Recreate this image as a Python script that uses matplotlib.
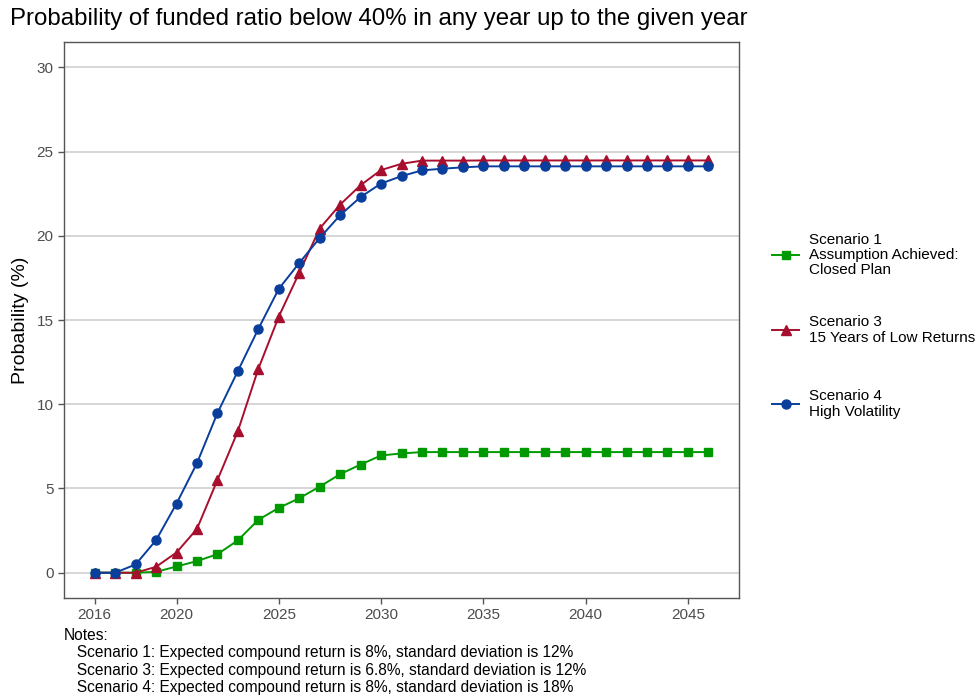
import matplotlib.pyplot as plt
from matplotlib.lines import Line2D

plt.rcParams['font.family'] = ['Liberation Sans', 'DejaVu Sans']

# Data
years = list(range(2016, 2047))
scenario1 = [0, 0, 0, 0.05, 0.37, 0.69, 1.1, 1.92, 3.14, 3.85, 4.42, 5.11, 5.85, 6.42, 6.96, 7.08,
             7.16, 7.16, 7.16, 7.16, 7.16, 7.16, 7.16, 7.16, 7.16, 7.16, 7.16, 7.16, 7.16, 7.16, 7.16]
scenario3 = [0, 0, 0, 0.35, 1.2, 2.6, 5.5, 8.4, 12.1, 15.2, 17.8, 20.43, 21.85, 23.0, 23.9, 24.27,
             24.46, 24.46, 24.46, 24.47, 24.47, 24.47, 24.47, 24.47, 24.47, 24.47, 24.47, 24.47, 24.47, 24.47, 24.47]
scenario4 = [0, 0, 0.49, 1.93, 4.1, 6.5, 9.47, 11.97, 14.47, 16.85, 18.38, 19.87, 21.22, 22.3, 23.1, 23.54,
             23.88, 23.98, 24.06, 24.12, 24.12, 24.12, 24.12, 24.12, 24.12, 24.12, 24.12, 24.12, 24.12, 24.12, 24.12]

labels = ["Scenario 1\nAssumption Achieved:\nClosed Plan",
          "Scenario 3\n15 Years of Low Returns",
          "Scenario 4\nHigh Volatility"]
colors = ["#009A00", "#A80F2E", "#0A3E9C"]
markers = ["s", "^", "o"]
msizes = [6, 7, 6.5]

x_ticks = [2016, 2020, 2025, 2030, 2035, 2040, 2045]
y_ticks = [0, 5, 10, 15, 20, 25, 30]

notes = ["Notes:",
         "   Scenario 1: Expected compound return is 8%, standard deviation is 12%",
         "   Scenario 3: Expected compound return is 6.8%, standard deviation is 12%",
         "   Scenario 4: Expected compound return is 8%, standard deviation is 18%"]

fig = plt.figure(figsize=(9.78, 6.97), dpi=100)
ax = fig.add_axes([64 / 978, 1 - 598 / 697, (739 - 64) / 978, (598 - 42) / 697])

series = [scenario1, scenario3, scenario4]
handles = []
for vals, c, m, ms, lab in zip(series, colors, markers, msizes, labels):
    ax.plot(years, vals, color=c, marker=m, markersize=ms, linewidth=1.4, zorder=3)
    handles.append(Line2D([], [], color=c, marker=m, markersize=ms, linewidth=1.4, label=lab))

ax.set_xlim(2014.5, 2047.5)
ax.set_ylim(-1.5, 31.5)
ax.set_xticks(x_ticks)
ax.set_yticks(y_ticks)
ax.yaxis.grid(True, color="#d0d0d0", linewidth=1.2)
ax.set_axisbelow(True)
for s in ax.spines.values():
    s.set_color("#555555")
    s.set_linewidth(1.0)
ax.tick_params(colors="#555555", labelcolor="#4d4d4d", labelsize=11, length=4, width=1)

ax.set_ylabel("Probability (%)", fontsize=14)
ax.yaxis.set_label_coords(-35 / 675, 0.5)

fig.text(10 / 978, 1 - 19 / 697, "Probability of funded ratio below 40% in any year up to the given year",
         fontsize=17.3, va="center", ha="left")

# one legend per scenario so each key sits at its own height
for h, yc in zip(handles, [255, 330, 404]):
    leg = fig.legend(handles=[h], loc="center left", bbox_to_anchor=(772 / 978, 1 - yc / 697),
                     frameon=False, fontsize=11, handlelength=1.8, handletextpad=0.6,
                     borderpad=0, borderaxespad=0)
    for t in leg.get_texts():
        t.set_linespacing(1.1)

for i, line in enumerate(notes):
    fig.text(64 / 978, 1 - (635 + i * 17.5) / 697, line, fontsize=11.2, va="center", ha="left")

fig.savefig("out.png", dpi=100)
